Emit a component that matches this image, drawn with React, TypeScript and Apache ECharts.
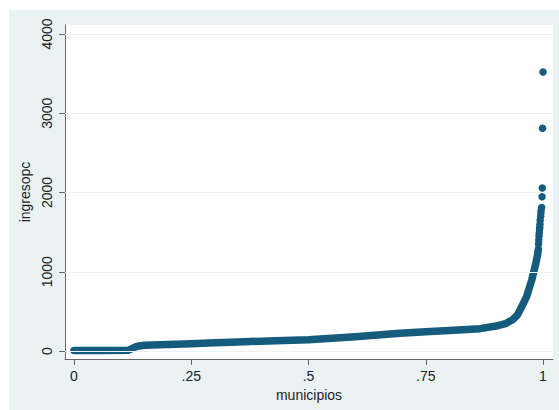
import React, { useEffect, useRef } from "react";
import * as echarts from "echarts";

// Quantile curve of ingresopc (fraction of municipios, value)
const curveP = [0, 0.06, 0.115, 0.122, 0.128, 0.135, 0.15, 0.2, 0.25, 0.3, 0.35, 0.43, 0.5, 0.6, 0.695, 0.75, 0.8, 0.866, 0.9, 0.92, 0.935, 0.945, 0.951, 0.958, 0.965, 0.97, 0.976, 0.983, 0.988, 0.99];
const curveV = [5, 6, 8, 25, 45, 60, 72, 82, 90, 103, 115, 130, 142, 180, 223, 242, 258, 282, 315, 345, 395, 450, 517, 600, 685, 780, 896, 1064, 1200, 1280];
// Top sparse observations
const topP = [0.9905, 0.991, 0.9915, 0.992, 0.9925, 0.993, 0.9935, 0.994, 0.995, 0.9955, 0.996, 0.997, 0.998, 0.9985, 0.999, 1.0];
const topV = [1350, 1400, 1450, 1490, 1530, 1560, 1600, 1650, 1700, 1740, 1780, 1810, 1947, 2057, 2810, 3520];

const xTicks = [0, 0.25, 0.5, 0.75, 1];
const xTickLabels = ["0", ".25", ".5", ".75", "1"];
const yTicks = [0, 1000, 2000, 3000, 4000];
const yTickLabels = ["0", "1000", "2000", "3000", "4000"];

const COLOR = "#155b7e";
const BG = "#eaf2f3";
const FONT = "Liberation Sans";

function pick(ticks: number[], labels: string[], v: number) {
  const i = ticks.findIndex((t) => Math.abs(t - v) < 1e-6);
  return i >= 0 ? labels[i] : "";
}

export default function App() {
  const ref = useRef<HTMLDivElement>(null);
  useEffect(() => {
    if (!ref.current) return;
    const chart = echarts.init(ref.current, null, { renderer: "svg" });
    const curve = curveP.map((p, i) => [p, curveV[i]]);
    const top = topP.map((p, i) => [p, topV[i]]);
    chart.setOption({
      animation: false,
      backgroundColor: "#ffffff",
      graphic: [
        {
          type: "rect",
          z: -10,
          silent: true,
          shape: { x: 9, y: 10, width: 550, height: 400 },
          style: { fill: BG },
        },
      ],
      grid: {
        left: 65,
        right: 6,
        top: 25,
        bottom: 51,
        show: true,
        backgroundColor: "#ffffff",
        borderWidth: 0,
      },
      xAxis: {
        type: "value",
        min: -0.0192,
        max: 1.0213,
        name: "municipios",
        nameLocation: "middle",
        nameGap: 24,
        nameTextStyle: { fontFamily: FONT, fontSize: 14, color: "#222" },
        axisLine: { show: true, onZero: false, lineStyle: { color: "#666", width: 1 } },
        axisTick: { show: true, length: 6, customValues: xTicks, lineStyle: { color: "#666" } },
        axisLabel: {
          customValues: xTicks,
          formatter: (v: number) => pick(xTicks, xTickLabels, v),
          margin: 10,
          fontFamily: FONT,
          fontSize: 14,
          color: "#222",
        },
        splitLine: { show: false },
      },
      yAxis: {
        type: "value",
        min: -101,
        max: 4114,
        name: "ingresopc",
        nameLocation: "middle",
        nameGap: 24,
        nameTextStyle: { fontFamily: FONT, fontSize: 14, color: "#222" },
        axisLine: { show: true, onZero: false, lineStyle: { color: "#666", width: 1 } },
        axisTick: { show: true, length: 6, customValues: yTicks, lineStyle: { color: "#666" } },
        axisLabel: {
          customValues: yTicks,
          formatter: (v: number) => pick(yTicks, yTickLabels, v),
          rotate: 90,
          margin: 11,
          fontFamily: FONT,
          fontSize: 14,
          color: "#222",
        },
        splitLine: { show: false },
      },
      series: [
        {
          type: "line",
          data: [],
          z: 1,
          silent: true,
          markLine: {
            silent: true,
            symbol: "none",
            label: { show: false },
            lineStyle: { color: BG, width: 1, type: "solid" },
            data: yTicks.map((t) => ({ yAxis: t })),
          },
        },
        {
          type: "line",
          data: curve,
          z: 2,
          showSymbol: false,
          symbol: "none",
          lineStyle: { color: COLOR, width: 7.5, cap: "round", join: "round", opacity: 1 },
          silent: true,
        },
        {
          type: "scatter",
          data: top,
          z: 3,
          symbol: "circle",
          symbolSize: 7.5,
          itemStyle: { color: COLOR, opacity: 1 },
          silent: true,
        },
      ],
    });
    return () => chart.dispose();
  }, []);
  return (
    <div
      ref={ref}
      style={{ position: "absolute", left: 0, top: 0, width: 559, height: 410 }}
    />
  );
}
